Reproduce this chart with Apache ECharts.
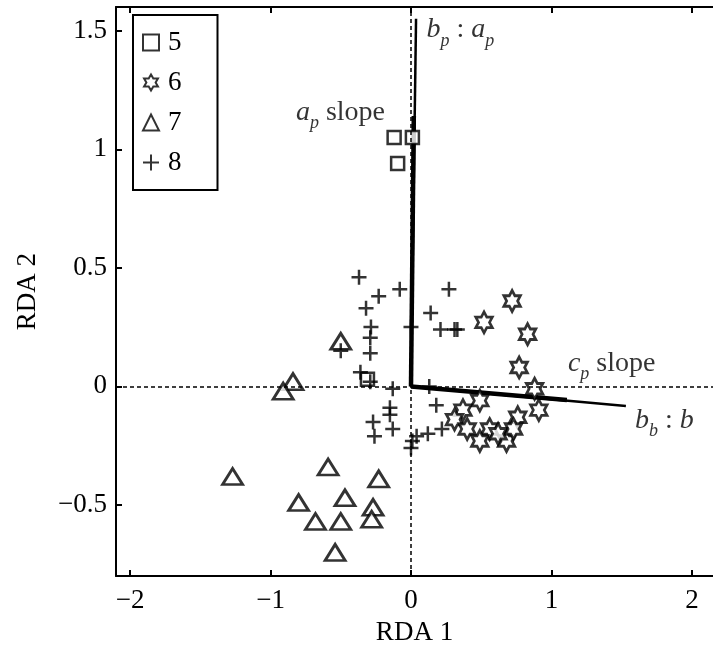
<!DOCTYPE html>
<html>
<head>
<meta charset="utf-8">
<script src="https://cdn.jsdelivr.net/npm/echarts@6/dist/echarts.min.js"></script>
<style>
  html, body { margin: 0; padding: 0; background: #fff; }
  #chart { width: 713px; height: 651px; }
</style>
</head>
<body>
<div id="chart"></div>
<script>
// RDA scores per group, [RDA 1, RDA 2]
const group5 = [[-0.12, 1.05], [0.01, 1.05], [-0.095, 0.94], [-0.31, 0.03]]
const group6 = [
  [0.72, 0.36], [0.52, 0.27], [0.83, 0.22], [0.77, 0.08], [0.88, -0.01],
  [0.91, -0.10], [0.49, -0.06], [0.37, -0.10], [0.31, -0.14], [0.40, -0.18],
  [0.56, -0.18], [0.49, -0.23], [0.68, -0.23], [0.76, -0.13], [0.73, -0.18],
  [0.62, -0.20]
]
const group7 = [
  [-1.27, -0.38], [-0.59, -0.34], [-0.23, -0.39], [-0.80, -0.49], [-0.47, -0.47],
  [-0.27, -0.51], [-0.68, -0.57], [-0.50, -0.57], [-0.28, -0.56], [-0.54, -0.70],
  [-0.84, 0.02], [-0.91, -0.02], [-0.50, 0.19]
]
const group8 = [
  [-0.37, 0.46], [-0.08, 0.41], [-0.23, 0.38], [-0.32, 0.33], [-0.285, 0.25],
  [-0.29, 0.205], [-0.29, 0.14], [-0.50, 0.15], [-0.36, 0.06], [0.0, 0.25],
  [0.14, 0.31], [0.27, 0.41], [0.21, 0.24], [0.31, 0.24], [0.33, 0.24],
  [-0.29, 0.02], [-0.13, -0.01], [0.13, 0.0], [0.18, -0.08], [-0.15, -0.09],
  [-0.15, -0.12], [-0.27, -0.15], [-0.13, -0.18], [-0.26, -0.21], [0.04, -0.21],
  [0.12, -0.20], [0.22, -0.18], [0.0, -0.26], [0.01, -0.23]
]

// slope vectors from origin
const apSlope = [[0, 0], [0.02, 1.14]]
const bpAp = [[0, 0], [0.036, 1.55]]
const cpSlope = [[0, 0], [1.11, -0.057]]
const bbB = [[0, 0], [1.53, -0.083]]

// annotation anchors: [x, y, key]
const notes = [
  [0.11, 1.49, 'bp'],
  [-0.185, 1.143, 'ap'],
  [1.117, 0.084, 'cp'],
  [1.594, -0.155, 'bb']
]

const xTicks = [-2, -1, 0, 1, 2]
const yTicks = [-0.5, 0, 0.5, 1, 1.5]

const serif = 'Liberation Serif, DejaVu Serif, serif'
const ink = '#000'
const fmt = (v) => (v < 0 ? '\u2212' + Math.abs(v) : String(v))

const hexagram = 'path://M0,-100L28.9,-50L86.6,-50L57.7,0L86.6,50L28.9,50L0,100L-28.9,50L-86.6,50L-57.7,0L-86.6,-50L-28.9,-50Z'
const plus = 'path://M0,-10V10M-10,0H10'

const noteText = {
  bp: '{i|b}{s|p}{m| : }{i|a}{s|p}',
  ap: '{i|a}{s|p}{m| slope}',
  cp: '{i|c}{s|p}{m| slope}',
  bb: '{i|b}{s|b}{m| : }{i|b}'
}
const notePos = { bp: 'right', ap: 'left', cp: 'right', bb: 'right' }

const chart = echarts.init(document.getElementById('chart'))

const tick = (values) => ({
  show: true, inside: true, length: 6, customValues: values,
  lineStyle: { color: ink, width: 2 }
})
const line = { show: true, onZero: false, lineStyle: { color: ink, width: 2 } }

const vec = (data, width) => ({
  type: 'line', data, symbol: 'none', silent: true, z: 3,
  lineStyle: { color: ink, width }
})

chart.setOption({
  animation: false,
  textStyle: { fontFamily: serif, color: ink },
  grid: { left: 116, right: 0, top: 7, bottom: 73 },
  legend: {
    data: ['5', '6', '7', '8'],
    orient: 'vertical',
    left: 133,
    top: 15,
    padding: [14, 36, 14, 9],
    itemGap: 13,
    itemWidth: 16,
    itemHeight: 16,
    borderColor: ink,
    borderWidth: 2,
    backgroundColor: '#fff',
    textStyle: { fontFamily: serif, fontSize: 27, color: ink, padding: [0, 0, 0, 4] }
  },
  xAxis: [
    {
      type: 'value', min: -2.1, max: 2.15, position: 'bottom',
      name: 'RDA 1', nameLocation: 'middle', nameGap: 42,
      nameTextStyle: { fontFamily: serif, fontSize: 27, color: ink },
      axisLabel: { color: ink, fontFamily: serif, fontSize: 27, margin: 11, customValues: xTicks, formatter: fmt },
      axisLine: line, axisTick: tick(xTicks), splitLine: { show: false }
    },
    {
      type: 'value', min: -2.1, max: 2.15, position: 'top',
      axisLabel: { show: false },
      axisLine: line, axisTick: tick(xTicks), splitLine: { show: false }
    }
  ],
  yAxis: [
    {
      type: 'value', min: -0.8, max: 1.6, position: 'left',
      name: 'RDA 2', nameLocation: 'middle', nameGap: 75, nameRotate: 90,
      nameTextStyle: { fontFamily: serif, fontSize: 27, color: ink },
      axisLabel: { color: ink, fontFamily: serif, fontSize: 27, margin: 9, customValues: yTicks, formatter: fmt },
      axisLine: line, axisTick: tick(yTicks), splitLine: { show: false }
    }
  ],
  series: [
    {
      type: 'line', data: [], silent: true, z: 1,
      markLine: {
        silent: true, symbol: 'none', label: { show: false },
        lineStyle: { color: ink, width: 1.5, type: [4, 3] },
        data: [{ xAxis: 0 }, { yAxis: 0 }]
      }
    },
    {
      name: '5', type: 'scatter', data: group5, symbol: 'rect', symbolSize: 13, z: 4,
      itemStyle: { color: '#fff', borderColor: ink, borderWidth: 2.5 }
    },
    {
      name: '6', type: 'scatter', data: group6, symbol: hexagram, symbolSize: [19, 21], symbolKeepAspect: true, z: 4,
      itemStyle: { color: '#fff', borderColor: ink, borderWidth: 2.8 }
    },
    {
      name: '7', type: 'scatter', data: group7, symbol: 'triangle', symbolSize: [20, 16], z: 4,
      itemStyle: { color: '#fff', borderColor: ink, borderWidth: 2.8 }
    },
    {
      name: '8', type: 'scatter', data: group8, symbol: plus, symbolSize: 15, z: 4,
      itemStyle: { color: ink, borderColor: ink, borderWidth: 2.5 }
    },
    vec(bpAp, 2.5),
    vec(apSlope, 4.5),
    vec(bbB, 2.5),
    vec(cpSlope, 4.5),
    {
      type: 'scatter', silent: true, symbolSize: 0, z: 5,
      data: notes.map((n) => ({
        value: [n[0], n[1]],
        label: {
          show: true,
          position: notePos[n[2]],
          distance: 0,
          formatter: noteText[n[2]],
          rich: {
            i: { fontFamily: serif, fontStyle: 'italic', fontSize: 28, color: ink, verticalAlign: 'bottom', padding: [0, 0, 6, 0] },
            s: { fontFamily: serif, fontStyle: 'italic', fontSize: 18, color: ink, verticalAlign: 'bottom' },
            m: { fontFamily: serif, fontSize: 28, color: ink, verticalAlign: 'bottom', padding: [0, 0, 6, 0] }
          }
        }
      }))
    }
  ]
})
</script>
</body>
</html>
